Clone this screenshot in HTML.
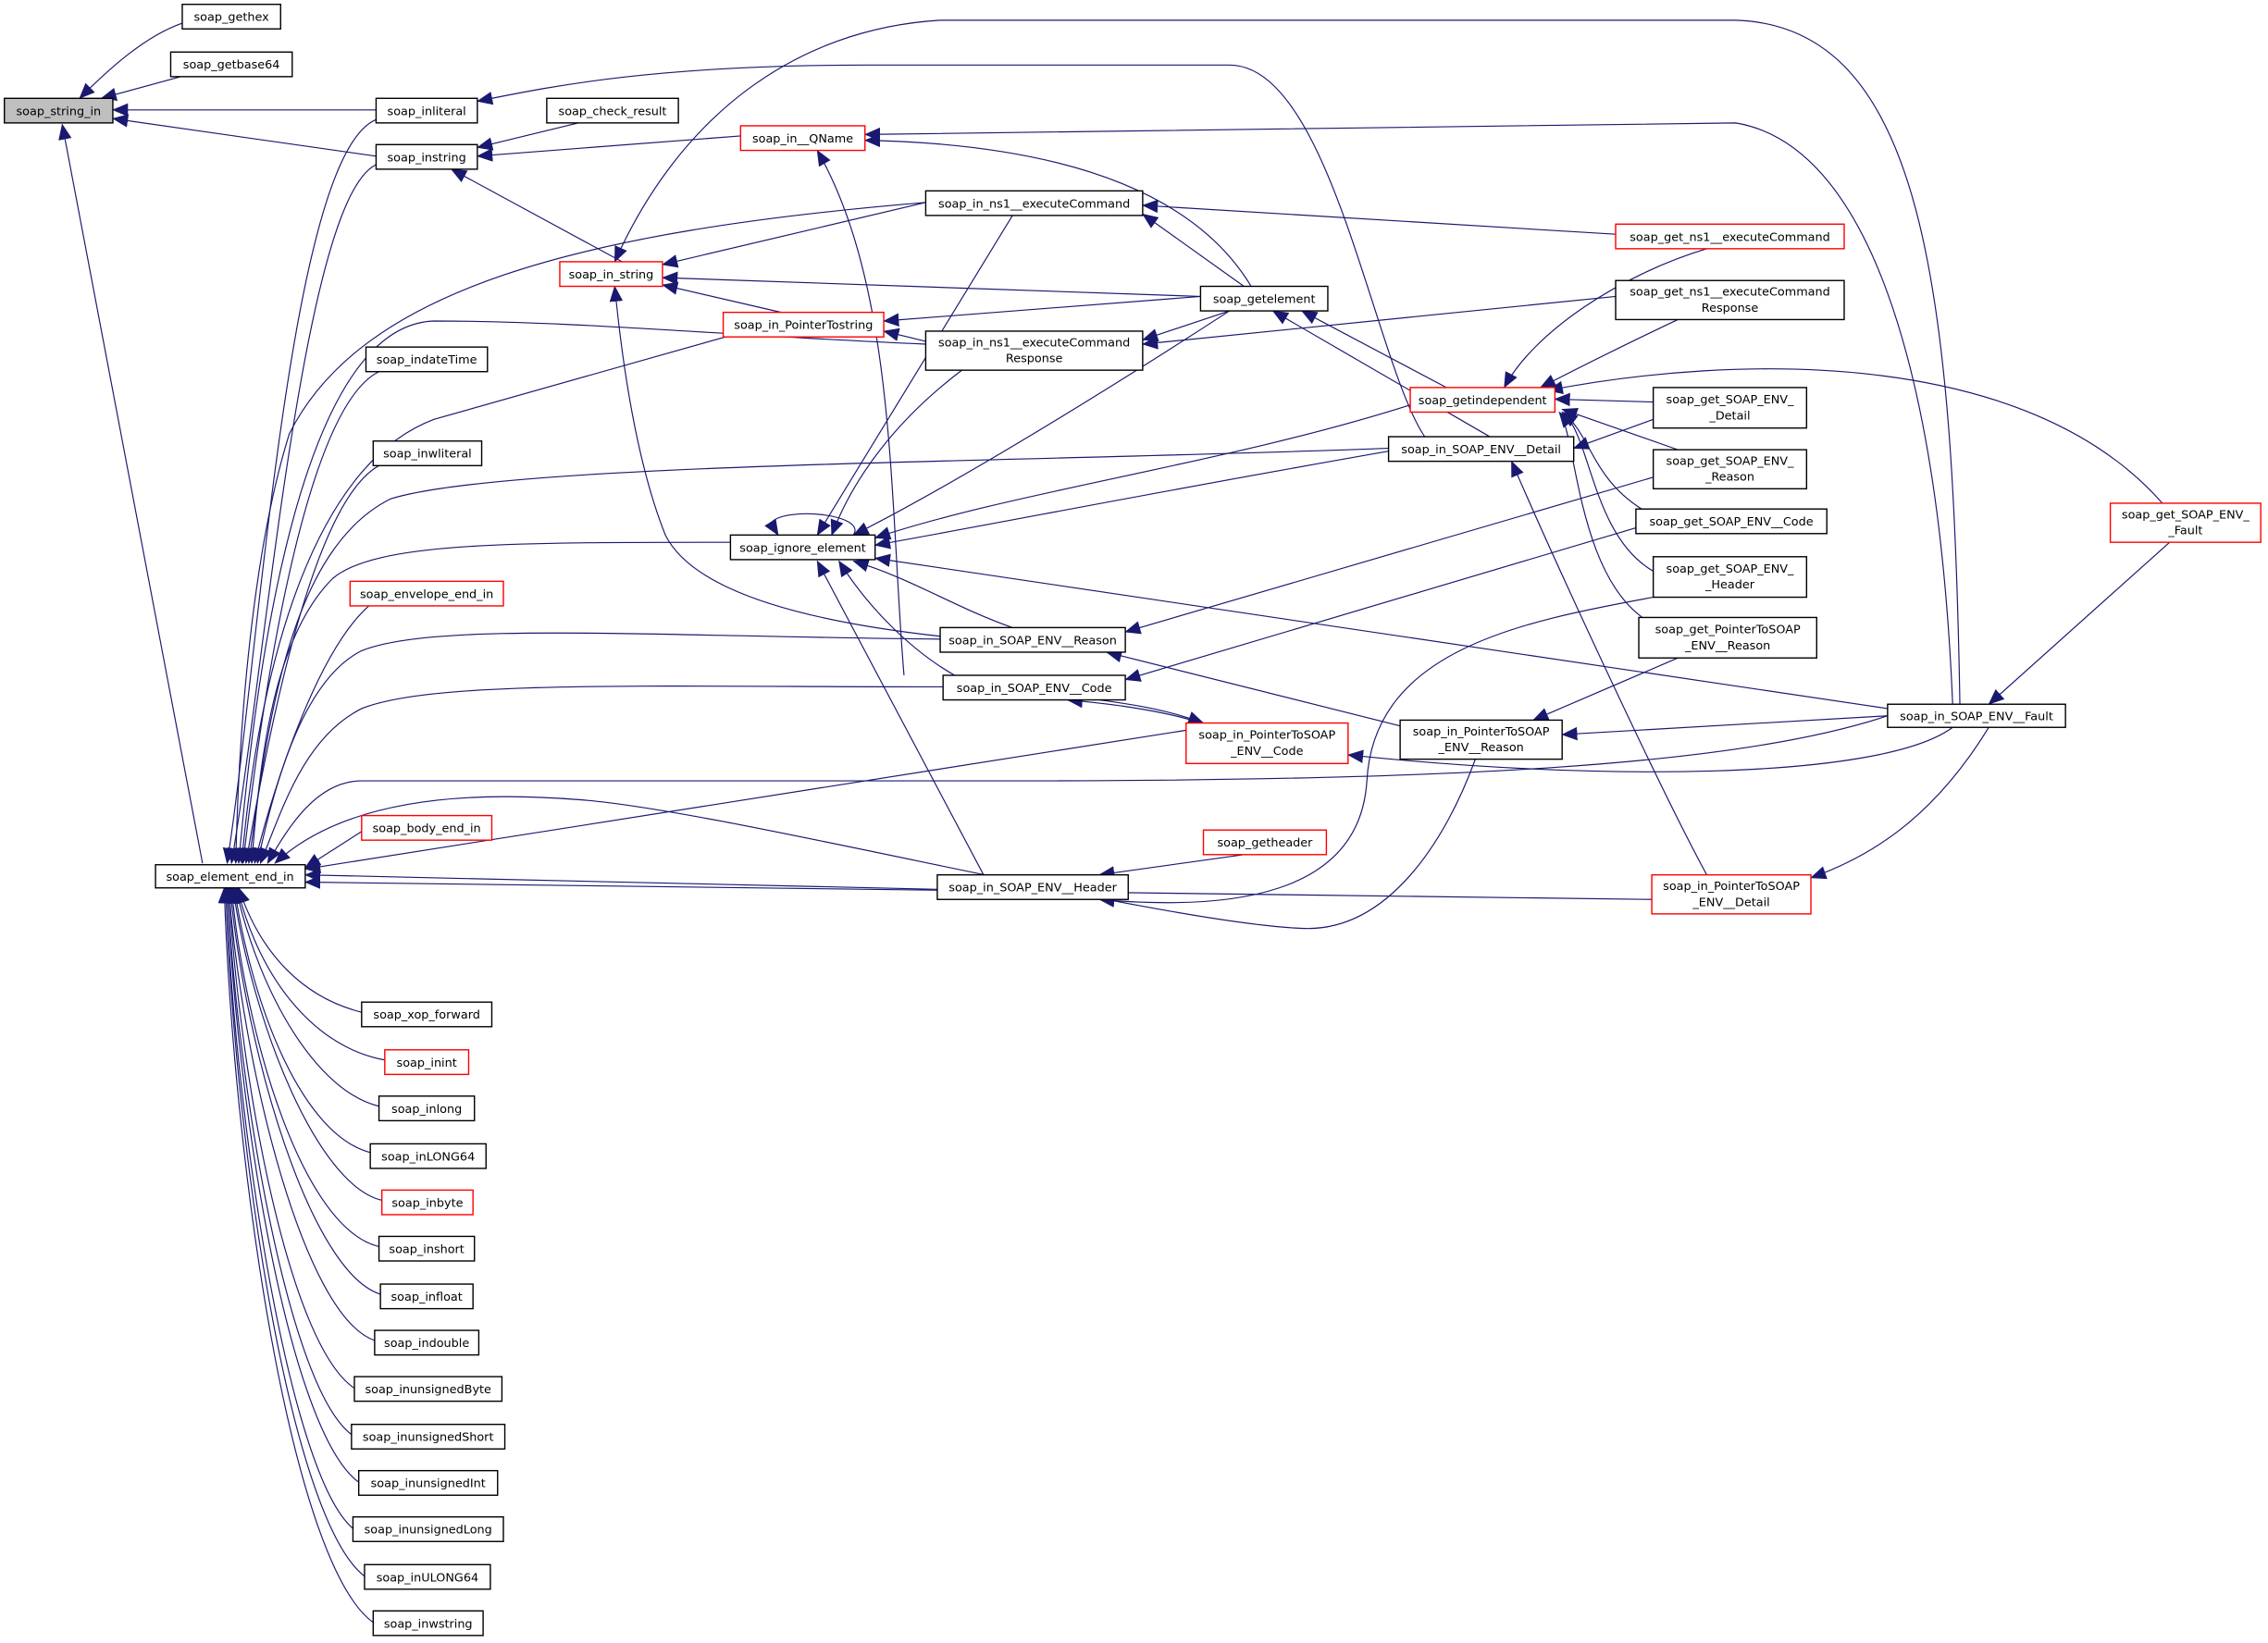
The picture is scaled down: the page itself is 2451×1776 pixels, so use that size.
<!DOCTYPE html>
<html><head><meta charset="utf-8"><style>
html,body{margin:0;padding:0;background:#fff;}
svg{display:block;}
text{font-family:"DejaVu Sans","Liberation Sans",sans-serif;font-size:8.2px;fill:#000;text-anchor:middle;}
.n{fill:#fff;stroke:#000;stroke-width:0.9;}
.r{fill:#fff;stroke:#ff0000;stroke-width:0.9;}
.g{fill:#bfbfbf;stroke:#000;stroke-width:0.9;}
.e{fill:none;stroke:#191970;stroke-width:0.75;marker-end:url(#a);}
</style></head><body>
<svg width="2451" height="1776" viewBox="0 0 1568 1136.2" xmlns="http://www.w3.org/2000/svg">
<defs><marker id="a" viewBox="0 0 10 10" refX="9.5" refY="5" markerWidth="11" markerHeight="11" markerUnits="userSpaceOnUse" orient="auto"><path d="M0,0.8 L10,5 L0,9.2 z" fill="#191970"/></marker></defs>
<g>
<path class="e" d="M126,16 C100,25 75,48 55,68"/>
<path class="e" d="M125,53 L70,68"/>
<path class="e" d="M260,76 L78,76"/>
<path class="e" d="M260,108 L78,82"/>
<path class="e" d="M140,597 L43,86"/>
<path class="e" d="M400,85 L330,102"/>
<path class="e" d="M512,94 L330,108"/>
<path class="e" d="M430,181 L312,117"/>
<path class="e" d="M262,82 C200,100 180,450 157,597"/>
<path class="e" d="M262,113 C210,130 185,450 160,597"/>
<path class="e" d="M640,140 C400,160 250,200 200,300 C175,380 165,500 163,597"/>
<path class="e" d="M640,238 C500,232 400,222 300,222 C210,225 178,450 165,597"/>
<path class="e" d="M505,232 L300,290 C220,320 180,450 167,597"/>
<path class="e" d="M262,257 C215,280 185,450 168,597"/>
<path class="e" d="M262,322 C220,345 190,480 170,597"/>
<path class="e" d="M960,310 C700,320 350,320 270,345 C200,380 185,500 172,597"/>
<path class="e" d="M505,375 C350,375 260,375 230,400 C190,440 180,520 174,597"/>
<path class="e" d="M255,419 C220,450 190,540 176,597"/>
<path class="e" d="M650,442 C450,440 300,430 250,450 C210,470 190,540 178,597"/>
<path class="e" d="M652,475 C450,475 300,470 250,490 C210,510 195,560 180,597"/>
<path class="e" d="M820,505 L211,601"/>
<path class="e" d="M1305,495 C1200,530 1000,540 700,540 L250,540 C220,540 200,570 185,597"/>
<path class="e" d="M1020,525 C1000,580 960,645 900,642 C800,638 500,560 400,553 C300,545 230,560 190,597"/>
<path class="e" d="M250,575 L211,600"/>
<path class="e" d="M648,615 L211,605"/>
<path class="e" d="M1142,622 L211,610"/>
<path class="e" d="M250,700 C210,690 180,660 165,614"/>
<path class="e" d="M266,733 C220,725 180,680 164,614"/>
<path class="e" d="M262,765 C220,755 180,690 163,614"/>
<path class="e" d="M256,797 C210,785 175,700 162,614"/>
<path class="e" d="M264,830 C220,820 175,710 161,614"/>
<path class="e" d="M262,862 C210,850 170,720 160,614"/>
<path class="e" d="M263,895 C215,880 170,730 159,614"/>
<path class="e" d="M259,927 C210,910 168,740 158,614"/>
<path class="e" d="M245,960 C200,930 166,750 158,614"/>
<path class="e" d="M243,992 C200,960 165,760 157,614"/>
<path class="e" d="M248,1025 C200,990 164,770 157,614"/>
<path class="e" d="M244,1057 C200,1020 163,780 156,614"/>
<path class="e" d="M252,1090 C200,1050 162,790 156,614"/>
<path class="e" d="M258,1122 C200,1080 161,800 155,614"/>
<path class="e" d="M640,140 L458,183"/>
<path class="e" d="M830,205 L458,192"/>
<path class="e" d="M540,216 L458,197"/>
<path class="e" d="M650,440 C560,430 480,410 460,370 C440,320 430,250 425,198"/>
<path class="e" d="M1355,487 C1350,200 1330,18 1200,14 L650,14 C550,20 470,80 425,181"/>
<path class="e" d="M985,302 C950,250 920,45 850,45 L600,45 C450,45 380,60 330,70"/>
<path class="e" d="M1350,487 C1340,250 1290,100 1200,85 L598,93"/>
<path class="e" d="M865,198 C830,140 750,100 598,97"/>
<path class="e" d="M625,467 C615,350 620,200 565,104"/>
<path class="e" d="M1117,162 L790,142"/>
<path class="e" d="M860,198 L790,148"/>
<path class="e" d="M850,215 L790,235"/>
<path class="e" d="M1117,205 L790,238"/>
<path class="e" d="M830,205 L611,222"/>
<path class="e" d="M640,236 L611,229"/>
<path class="e" d="M1000,268 L900,215"/>
<path class="e" d="M1030,302 L880,215"/>
<path class="e" d="M1180,172 C1120,190 1060,230 1040,268"/>
<path class="e" d="M1160,221 C1120,240 1090,255 1065,268"/>
<path class="e" d="M1495,348 C1400,240 1200,245 1070,270"/>
<path class="e" d="M1143,278 L1075,276"/>
<path class="e" d="M1160,311 L1080,283"/>
<path class="e" d="M1135,352 C1100,330 1100,300 1080,285"/>
<path class="e" d="M1143,395 C1100,370 1100,300 1080,285"/>
<path class="e" d="M1140,430 C1090,400 1090,300 1078,285"/>
<path class="e" d="M1143,290 L1088,310"/>
<path class="e" d="M975,280 C850,320 700,340 605,372"/>
<path class="e" d="M960,312 C800,340 700,360 605,377"/>
<path class="e" d="M850,215 C750,280 650,340 590,370"/>
<path class="e" d="M700,149 L565,370"/>
<path class="e" d="M665,256 C620,290 590,330 575,370"/>
<path class="e" d="M590,370 C600,355 540,350 533,362 L538,370"/>
<path class="e" d="M1305,490 L605,386"/>
<path class="e" d="M700,434 C660,420 630,400 590,388"/>
<path class="e" d="M660,467 C630,450 600,420 580,388"/>
<path class="e" d="M680,605 L565,388"/>
<path class="e" d="M1143,330 L778,437"/>
<path class="e" d="M1131,365 L778,470"/>
<path class="e" d="M968,502 L765,451"/>
<path class="e" d="M830,500 C800,490 760,486 738,484"/>
<path class="e" d="M760,484 C790,488 810,492 832,500"/>
<path class="e" d="M1305,495 L1080,508"/>
<path class="e" d="M1350,503 C1300,540 1100,540 932,522"/>
<path class="e" d="M1375,503 C1340,560 1300,590 1252,607"/>
<path class="e" d="M1500,375 L1375,487"/>
<path class="e" d="M1160,455 L1060,498"/>
<path class="e" d="M1180,605 C1150,550 1080,400 1045,319"/>
<path class="e" d="M860,591 L760,605"/>
<path class="e" d="M1143,413 C1050,430 950,450 945,540 C940,620 850,630 760,622"/>
</g>
<g>
<rect class="g" x="3" y="68" width="75" height="17"/><text x="40.5" y="79.5">soap_string_in</text>
<rect class="n" x="126" y="3" width="68" height="17"/><text x="160" y="14.5">soap_gethex</text>
<rect class="n" x="118" y="36" width="84" height="17"/><text x="160" y="47.5">soap_getbase64</text>
<rect class="n" x="260" y="68" width="70" height="17"/><text x="295" y="79.5">soap_inliteral</text>
<rect class="n" x="260" y="100" width="70" height="17"/><text x="295" y="111.5">soap_instring</text>
<rect class="n" x="378" y="68" width="91" height="17"/><text x="423.5" y="79.5">soap_check_result</text>
<rect class="r" x="512" y="87" width="86" height="17"/><text x="555" y="98.5">soap_in__QName</text>
<rect class="r" x="387" y="181" width="71" height="17"/><text x="422.5" y="192.5">soap_in_string</text>
<rect class="n" x="640" y="132" width="150" height="17"/><text x="715" y="143.5">soap_in_ns1__executeCommand</text>
<rect class="r" x="1117" y="155" width="158" height="17"/><text x="1196" y="166.5">soap_get_ns1__executeCommand</text>
<rect class="n" x="830" y="198" width="88" height="17"/><text x="874" y="209.5">soap_getelement</text>
<rect class="n" x="1117" y="194" width="158" height="27"/><text x="1196" y="204.5">soap_get_ns1__executeCommand</text><text x="1196" y="215.5">Response</text>
<rect class="r" x="500" y="216" width="111" height="17"/><text x="555.5" y="227.5">soap_in_PointerTostring</text>
<rect class="n" x="640" y="229" width="150" height="27"/><text x="715" y="239.5">soap_in_ns1__executeCommand</text><text x="715" y="250.5">Response</text>
<rect class="n" x="253" y="240" width="84" height="17"/><text x="295" y="251.5">soap_indateTime</text>
<rect class="r" x="975" y="268" width="100" height="17"/><text x="1025" y="279.5">soap_getindependent</text>
<rect class="n" x="1143" y="268" width="106" height="28"/><text x="1196" y="279">soap_get_SOAP_ENV_</text><text x="1196" y="290">_Detail</text>
<rect class="n" x="258" y="305" width="75" height="17"/><text x="295.5" y="316.5">soap_inwliteral</text>
<rect class="n" x="960" y="302" width="128" height="17"/><text x="1024" y="313.5">soap_in_SOAP_ENV__Detail</text>
<rect class="n" x="1143" y="311" width="106" height="27"/><text x="1196" y="321.5">soap_get_SOAP_ENV_</text><text x="1196" y="332.5">_Reason</text>
<rect class="n" x="1131" y="352" width="132" height="17"/><text x="1197" y="363.5">soap_get_SOAP_ENV__Code</text>
<rect class="r" x="1459" y="348" width="104" height="27"/><text x="1511" y="358.5">soap_get_SOAP_ENV_</text><text x="1511" y="369.5">_Fault</text>
<rect class="n" x="505" y="370" width="100" height="17"/><text x="555" y="381.5">soap_ignore_element</text>
<rect class="n" x="1143" y="385" width="106" height="28"/><text x="1196" y="396">soap_get_SOAP_ENV_</text><text x="1196" y="407">_Header</text>
<rect class="r" x="242" y="402" width="106" height="17"/><text x="295" y="413.5">soap_envelope_end_in</text>
<rect class="n" x="1133" y="427" width="123" height="28"/><text x="1194.5" y="438">soap_get_PointerToSOAP</text><text x="1194.5" y="449">_ENV__Reason</text>
<rect class="n" x="650" y="434" width="128" height="17"/><text x="714" y="445.5">soap_in_SOAP_ENV__Reason</text>
<rect class="n" x="652" y="467" width="126" height="17"/><text x="715" y="478.5">soap_in_SOAP_ENV__Code</text>
<rect class="n" x="1305" y="487" width="123" height="16"/><text x="1366.5" y="498">soap_in_SOAP_ENV__Fault</text>
<rect class="r" x="820" y="500" width="112" height="28"/><text x="876" y="511">soap_in_PointerToSOAP</text><text x="876" y="522">_ENV__Code</text>
<rect class="n" x="968" y="498" width="112" height="27"/><text x="1024" y="508.5">soap_in_PointerToSOAP</text><text x="1024" y="519.5">_ENV__Reason</text>
<rect class="r" x="250" y="564" width="90" height="17"/><text x="295" y="575.5">soap_body_end_in</text>
<rect class="r" x="832" y="574" width="85" height="17"/><text x="874.5" y="585.5">soap_getheader</text>
<rect class="n" x="107.5" y="598" width="103.5" height="16"/><text x="159" y="609">soap_element_end_in</text>
<rect class="n" x="648" y="605" width="132" height="17"/><text x="714" y="616.5">soap_in_SOAP_ENV__Header</text>
<rect class="r" x="1142" y="605" width="110" height="27"/><text x="1197" y="615.5">soap_in_PointerToSOAP</text><text x="1197" y="626.5">_ENV__Detail</text>
<rect class="n" x="250" y="693" width="90" height="17"/><text x="295" y="704.5">soap_xop_forward</text>
<rect class="r" x="266" y="726" width="58" height="17"/><text x="295" y="737.5">soap_inint</text>
<rect class="n" x="262" y="758" width="66" height="17"/><text x="295" y="769.5">soap_inlong</text>
<rect class="n" x="256" y="791" width="80" height="17"/><text x="296" y="802.5">soap_inLONG64</text>
<rect class="r" x="264" y="823" width="63" height="17"/><text x="295.5" y="834.5">soap_inbyte</text>
<rect class="n" x="262" y="855" width="66" height="17"/><text x="295" y="866.5">soap_inshort</text>
<rect class="n" x="263" y="888" width="64" height="17"/><text x="295" y="899.5">soap_infloat</text>
<rect class="n" x="259" y="920" width="72" height="17"/><text x="295" y="931.5">soap_indouble</text>
<rect class="n" x="245" y="952" width="102" height="17"/><text x="296" y="963.5">soap_inunsignedByte</text>
<rect class="n" x="243" y="985" width="106" height="17"/><text x="296" y="996.5">soap_inunsignedShort</text>
<rect class="n" x="248" y="1017" width="96" height="17"/><text x="296" y="1028.5">soap_inunsignedInt</text>
<rect class="n" x="244" y="1049" width="104" height="17"/><text x="296" y="1060.5">soap_inunsignedLong</text>
<rect class="n" x="252" y="1082" width="87" height="17"/><text x="295.5" y="1093.5">soap_inULONG64</text>
<rect class="n" x="258" y="1114" width="76" height="17"/><text x="296" y="1125.5">soap_inwstring</text>
</g>
</svg>
</body></html>
